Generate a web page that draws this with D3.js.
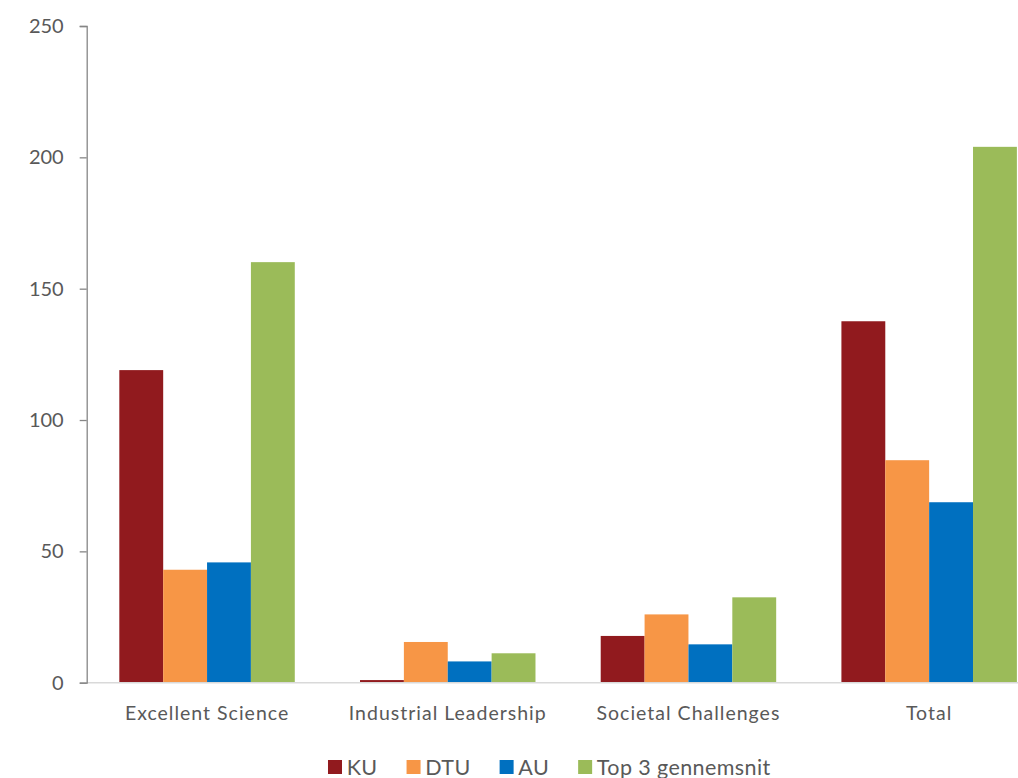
<!DOCTYPE html>
<html>
<head>
<meta charset="utf-8">
<script src="https://cdn.jsdelivr.net/npm/d3@7"></script>
<style>
  html, body { margin: 0; padding: 0; background: #fff; overflow: hidden; }
  svg { display: block; }
  text { font-family: Lato, "Open Sans", sans-serif; fill: #595959; }
</style>
</head>
<body>
<svg id="chart" width="1018" height="778"></svg>
<script>
const categories = ["Excellent Science", "Industrial Leadership", "Societal Challenges", "Total"];
const seriesNames = ["KU", "DTU", "AU", "Top 3 gennemsnit"];
const seriesColors = ["#911A1E", "#F79646", "#0070C0", "#9BBB59"];
const KU = [119.0, 1.0, 17.8, 137.6];
const DTU = [43.0, 15.5, 26.0, 84.7];
const AU = [45.8, 8.1, 14.6, 68.7];
const Top3 = [160.1, 11.2, 32.5, 204.0];
const yTicks = [0, 50, 100, 150, 200, 250];

const seriesValues = [KU, DTU, AU, Top3];

const svg = d3.select("#chart");
const W = 1018, H = 778;
const plotLeft = 86.7, plotRight = 1049.5, plotTop = 26, plotBottom = 682.7;

const y = d3.scaleLinear().domain([0, 250]).range([plotBottom, plotTop]);
const x0 = d3.scaleBand().domain(categories).range([plotLeft, plotRight])
  .paddingInner(0.271).paddingOuter(0.1355);
const x1 = d3.scaleBand().domain(seriesNames).range([0, x0.bandwidth()]);

// bars
const groups = svg.append("g").selectAll("g")
  .data(categories).join("g")
  .attr("transform", c => `translate(${x0(c)},0)`);
groups.selectAll("rect")
  .data((c, i) => seriesNames.map((s, j) => ({ s, j, v: seriesValues[j][i] })))
  .join("rect")
  .attr("x", d => x1(d.s))
  .attr("width", x1.bandwidth())
  .attr("y", d => y(d.v))
  .attr("height", d => y(0) - y(d.v))
  .attr("fill", d => seriesColors[d.j]);

// x baseline
svg.append("line")
  .attr("x1", plotLeft).attr("x2", W)
  .attr("y1", y(0)).attr("y2", y(0))
  .attr("stroke", "#D9D9D9").attr("stroke-width", 1.5);

// y axis
const yAxis = d3.axisLeft(y).tickValues(yTicks).tickSize(7).tickPadding(16);
const ya = svg.append("g").attr("transform", `translate(${plotLeft},0)`).call(yAxis);
ya.select(".domain").attr("stroke", "#868686").attr("stroke-width", 1.3);
ya.selectAll(".tick line").attr("stroke", "#868686").attr("stroke-width", 1.3);
ya.selectAll(".tick text")
  .attr("font-size", 20).attr("fill", "#595959")
  .style("font-family", "Lato, 'Open Sans', sans-serif");

// category labels
svg.append("g").selectAll("text")
  .data(categories).join("text")
  .attr("x", c => x0(c) + x0.bandwidth() / 2)
  .attr("y", 720)
  .attr("text-anchor", "middle")
  .attr("font-size", 19.5)
  .style("letter-spacing", "1px")
  .text(c => c);

// legend
const leg = svg.append("g");
let cx = 0;
const gap = 29;
seriesNames.forEach((s, j) => {
  const g = leg.append("g").attr("transform", `translate(${cx},0)`);
  g.append("rect").attr("x", 0).attr("y", 760).attr("width", 14).attr("height", 14)
    .attr("fill", seriesColors[j]);
  const t = g.append("text").attr("x", 18.7).attr("y", 774.5)
    .attr("font-size", 21.5).style("letter-spacing", "0.4px").text(s);
  const w = t.node().getComputedTextLength();
  cx += 18.7 + w + gap;
});
const totalW = cx - gap;
leg.attr("transform", `translate(${549.3 - totalW / 2},0)`);
</script>
</body>
</html>
